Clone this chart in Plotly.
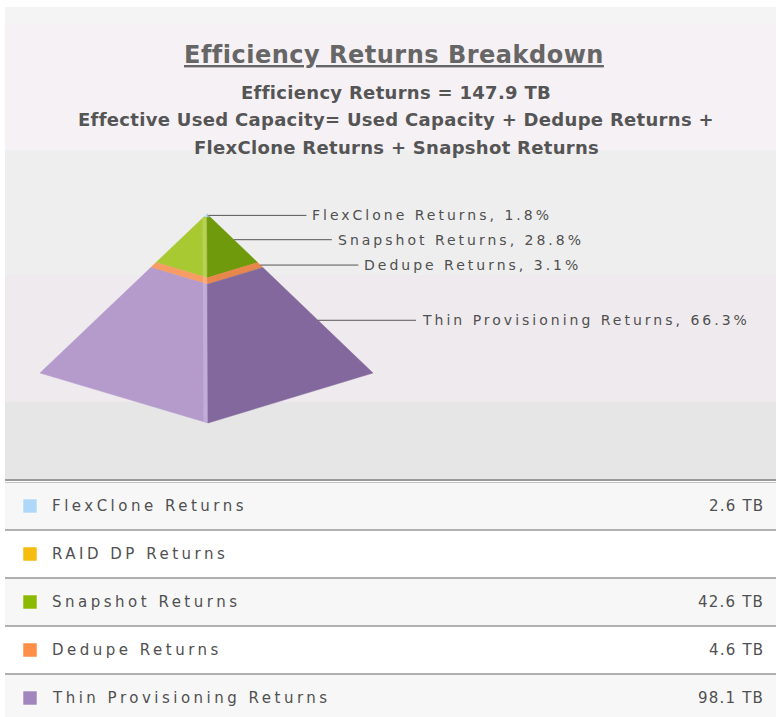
import plotly.graph_objects as go

# ---------------- data ----------------
categories = ["FlexClone Returns", "RAID DP Returns", "Snapshot Returns",
              "Dedupe Returns", "Thin Provisioning Returns"]
values_tb = [2.6, None, 42.6, 4.6, 98.1]
legend_colors = ["#AFD8F8", "#F6BD0F", "#8BBA00", "#FF8E46", "#A186BE"]
face_left_colors = ["#c6e4fb", "#f8cf4f", "#a9c932", "#f79d64", "#b49bcc"]
face_right_colors = ["#8dbde0", "#d9a200", "#6f9a0b", "#e7874c", "#83689d"]
title_text = "Efficiency Returns Breakdown"
formula_lines = ["Effective Used Capacity= Used Capacity + Dedupe Returns +",
                 "FlexClone Returns + Snapshot Returns"]
unit = "TB"

W, H = 776, 717
total = sum(v for v in values_tb if v)

fig = go.Figure()

# ---------------- background ----------------
shapes = []
def rect(x0, y0, x1, y1, color):
    shapes.append(dict(type="rect", xref="x", yref="y", x0=x0, x1=x1, y0=y0, y1=y1,
                       fillcolor=color, line=dict(width=0), layer="below"))
def hline(y, color, width, x0=5, x1=W):
    shapes.append(dict(type="line", xref="x", yref="y", x0=x0, x1=x1, y0=y, y1=y,
                       line=dict(color=color, width=width), layer="below"))

bands = [(7, 23, "#f4f4f4"), (23, 150, "#f6f1f5"), (150, 275, "#eeeeee"),
         (275, 402, "#efeaee"), (402, 479, "#e6e6e6")]
for y0, y1, c in bands:
    rect(5, y0, W, y1, c)

row_top = 483
row_h = 48
row_fill = ["#f7f7f7", "#ffffff"]
for i in range(len(categories)):
    y0 = row_top + i * row_h
    rect(5, y0, W, min(y0 + row_h - 2, H), row_fill[i % 2])
hline(480, "#9a9a9a", 2)
hline(482.5, "#c4c4c4", 1)
for i in range(1, len(categories)):
    hline(row_top + i * row_h - 1, "#b0b0b0", 2)

# ---------------- pyramid ----------------
APEX = (207.0, 214.0)
LEFT = (40.0, 373.0)
FRONT = (208.0, 423.0)
RIGHT = (373.0, 373.0)

def at(t, P):
    return (APEX[0] + t * (P[0] - APEX[0]), APEX[1] + t * (P[1] - APEX[1]))

annotations = []
cum = 0.0
for i, (name, v) in enumerate(zip(categories, values_tb)):
    if not v:
        continue
    t0 = cum / total
    cum += v
    t1 = cum / total
    for P, col in ((LEFT, face_left_colors[i]), (RIGHT, face_right_colors[i])):
        pts = [at(t0, P), at(t0, FRONT), at(t1, FRONT), at(t1, P), at(t0, P)]
        fig.add_trace(go.Scatter(x=[p[0] for p in pts], y=[p[1] for p in pts],
                                 mode="lines", fill="toself", fillcolor=col,
                                 line=dict(width=0.5, color=col), hoverinfo="skip",
                                 showlegend=False))
    # label connector
    tm = (t0 + t1) / 2
    px, py = at(tm, RIGHT)
    fig.add_trace(go.Scatter(x=[px, px + 98], y=[py, py], mode="lines",
                             line=dict(color="#555555", width=1), hoverinfo="skip",
                             showlegend=False))
    pct = v / total * 100
    annotations.append(dict(
        x=px + 102, y=py, xref="x", yref="y", xanchor="left", yanchor="middle",
        align="left", showarrow=False,
        text=f'<span style="letter-spacing:3px">{name}, {pct:.1f}%</span>',
        font=dict(family="DejaVu Sans", size=14, color="#505050")))

# front edge highlight
fig.add_trace(go.Scatter(x=[APEX[0] - 2.5, FRONT[0] - 2.5], y=[APEX[1] + 4, FRONT[1] - 1],
                         mode="lines", line=dict(color="rgba(255,255,255,0.18)", width=4),
                         hoverinfo="skip", showlegend=False))

# ---------------- titles ----------------
cx = 394
annotations.append(dict(x=cx, y=55, xref="x", yref="y", xanchor="center", yanchor="middle",
                        showarrow=False,
                        text=f'<u><span style="letter-spacing:0.5px">{title_text}</span></u>',
                        font=dict(family="DejaVu Sans", size=24, color="#666666", weight="bold")))
sub_lines = [f"Efficiency Returns = {total:.1f} {unit}"] + formula_lines
for k, line in enumerate(sub_lines):
    annotations.append(dict(x=cx + 2, y=92 + 27.5 * k, xref="x", yref="y", xanchor="center",
                            yanchor="middle", showarrow=False,
                            text=f'<span style="letter-spacing:0.3px">{line}</span>',
                            font=dict(family="DejaVu Sans", size=18, color="#555555",
                                      weight="bold")))

# ---------------- legend table ----------------
for i, (name, v) in enumerate(zip(categories, values_tb)):
    yc = row_top + i * row_h + 23
    shapes.append(dict(type="rect", xref="x", yref="y", x0=23, x1=37, y0=yc - 7, y1=yc + 7,
                       fillcolor=legend_colors[i], line=dict(width=1, color="rgba(255,255,255,0.5)")))
    annotations.append(dict(x=50, y=yc, xref="x", yref="y", xanchor="left", yanchor="middle",
                            align="left", showarrow=False,
                            text=f'<span style="letter-spacing:3.5px">{name}</span>',
                            font=dict(family="DejaVu Sans", size=15, color="#505050")))
    if v:
        annotations.append(dict(x=766, y=yc, xref="x", yref="y", xanchor="right",
                                yanchor="middle", align="right", showarrow=False,
                                text=f'<span style="letter-spacing:1.2px">{v:.1f} {unit}</span>',
                                font=dict(family="DejaVu Sans", size=15, color="#505050")))

fig.update_layout(
    width=W, height=H, margin=dict(l=0, r=0, t=0, b=0, pad=0),
    paper_bgcolor="#ffffff", plot_bgcolor="rgba(0,0,0,0)",
    xaxis=dict(range=[0, W], visible=False, fixedrange=True),
    yaxis=dict(range=[H, 0], visible=False, fixedrange=True),
    shapes=shapes, annotations=annotations, showlegend=False,
)
fig.write_html("out.html", config={"displayModeBar": False},
               post_script="document.body.style.margin='0px';")
